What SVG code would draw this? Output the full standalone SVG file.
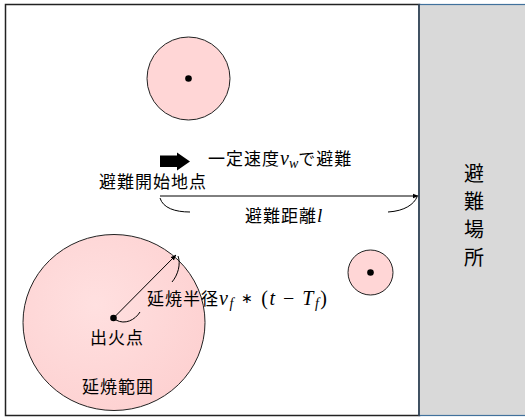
<svg xmlns="http://www.w3.org/2000/svg" width="525" height="419" viewBox="0 0 525 419">
<style>
.t{font-family:"Noto Sans CJK JP","Noto Sans CJK SC",sans-serif;font-size:17px;letter-spacing:1px;fill:#000}
.v{font-family:"Noto Sans CJK JP","Noto Sans CJK SC",sans-serif;font-size:20px;fill:#000}
.m{font-family:"Liberation Serif",serif;font-style:italic;letter-spacing:1.5px}
.r{font-family:"Liberation Serif",serif;letter-spacing:1.5px}
.c{fill:#ffd6d6;stroke:#222;stroke-width:1}
.ln{fill:none;stroke:#000;stroke-width:1}
</style>
<defs>
<marker id="ah" viewBox="0 0 10 10" refX="9" refY="5" markerWidth="6" markerHeight="6" orient="auto"><path d="M0,1 L10,5 L0,9 z" fill="#000"/></marker>
<radialGradient id="g" cx="0.4" cy="0.4" r="0.7"><stop offset="0" stop-color="#ffe0e0"/><stop offset="1" stop-color="#fdd0d0"/></radialGradient>
</defs>
<g id="area"><rect x="5.5" y="4.5" width="414" height="411" fill="#fff" stroke="#222" stroke-width="1.5"/></g>
<g id="shelter">
<rect x="419" y="4.5" width="110" height="411" fill="#d9d9d9" stroke="#41719c" stroke-width="1.2"/>
<line x1="419" y1="4" x2="419" y2="416" stroke="#2e3a48" stroke-width="1.5"/>
<text class="v" x="474" y="181" text-anchor="middle">避</text>
<text class="v" x="474" y="209" text-anchor="middle">難</text>
<text class="v" x="474" y="237" text-anchor="middle">場</text>
<text class="v" x="474" y="265" text-anchor="middle">所</text>
</g>
<g id="fire-top"><circle class="c" cx="188.5" cy="78.5" r="41.5"/><circle cx="188.5" cy="78.5" r="3.3"/></g>
<g id="fire-right"><circle class="c" cx="370.5" cy="272.5" r="22.5"/><circle cx="370.5" cy="272.5" r="3.3"/></g>
<g id="fire-main">
<ellipse cx="114" cy="322.5" rx="91" ry="88" fill="url(#g)" stroke="#222"/>
<circle cx="113.5" cy="318" r="3.3"/>
<text class="t" x="90" y="344">出火点</text>
<text class="t" x="82" y="393">延焼範囲</text>
</g>
<g id="connectors">
<line class="ln" x1="113.5" y1="318" x2="176" y2="255" marker-end="url(#ah)"/>
<path class="ln" d="M116,320 C125,325 135,320 140,312"/>
<path class="ln" d="M178,256 C181,264 178,275 172,282"/>
<line class="ln" x1="160" y1="196" x2="418" y2="196" marker-end="url(#ah)"/>
<path class="ln" d="M160,198 C163,208 175,212 190,212"/>
<path class="ln" d="M388,212 C405,211 414,204 417,197"/>
<path d="M160,155.5 H177 V152.5 L190,161.5 L177,170.5 V167 H160 z" fill="#000"/>
</g>
<g id="labels">
<text class="t" x="208" y="165">一定速度<tspan class="m" style="font-size:20px;letter-spacing:0">v</tspan><tspan class="m" style="font-size:14px;letter-spacing:0" dy="3">w</tspan><tspan dy="-3">で避難</tspan></text>
<text class="t" x="99" y="188">避難開始地点</text>
<text class="t" x="245" y="222">避難距離<tspan class="m" style="font-size:19px">l</tspan></text>
<text class="t" x="147" y="305">延焼半径<tspan class="m" style="font-size:20px">v</tspan><tspan class="m" style="font-size:14px" dy="3">f</tspan><tspan class="r" dy="-3" style="font-size:20px" xml:space="preserve"> </tspan><tspan class="r" dy="-2" style="font-size:14px">∗</tspan><tspan class="r" dy="2" style="font-size:20px" xml:space="preserve"> (</tspan><tspan class="m" style="font-size:20px">t</tspan><tspan class="r" style="font-size:20px" xml:space="preserve"> − </tspan><tspan class="m" style="font-size:20px">T</tspan><tspan class="m" style="font-size:14px" dy="3">f</tspan><tspan class="r" dy="-3" style="font-size:20px">)</tspan></text>
</g>
</svg>
